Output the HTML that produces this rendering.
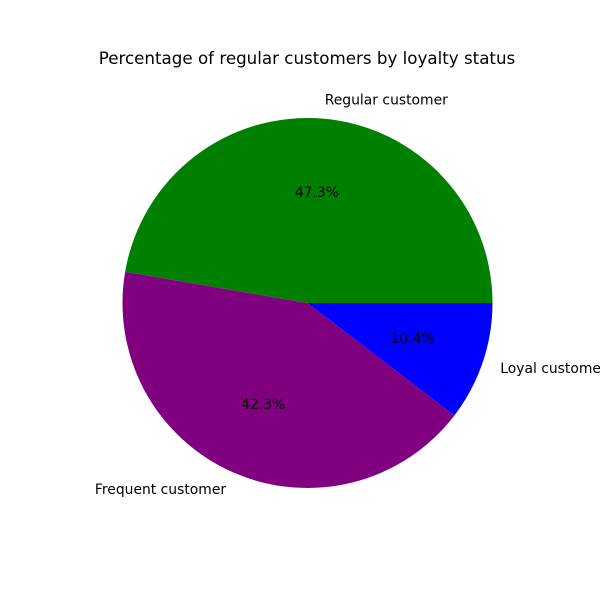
<!DOCTYPE html>
<html>
<head>
<meta charset="utf-8">
<style>
  html, body { margin: 0; padding: 0; background: #fff; }
  svg { display: block; font-family: "DejaVu Sans", "Liberation Sans", sans-serif; }
</style>
</head>
<body>
<svg id="chart" width="600" height="600" viewBox="0 0 600 600">
  <text x="307" y="64" font-size="16.7" text-anchor="middle" fill="#000">Percentage of regular customers by loyalty status</text>
  <g id="slices"></g>
  <g id="labels"></g>
</svg>
<script>
const categories = ["Regular customer", "Frequent customer", "Loyal customer"];
const values = [47.3, 42.3, 10.4];
const colors = ["#008000", "#800080", "#0000ff"];

const cx = 307.5, cy = 303, r = 185;
const ns = "http://www.w3.org/2000/svg";
const slicesG = document.getElementById("slices");
const labelsG = document.getElementById("labels");
const total = values.reduce((a, b) => a + b, 0);

function pt(angleDeg, rad) {
  const a = angleDeg * Math.PI / 180;
  return [cx + rad * Math.cos(a), cy - rad * Math.sin(a)];
}

let start = 0;
values.forEach((v, i) => {
  const sweep = v / total * 360;
  const end = start + sweep;
  const [x1, y1] = pt(start, r);
  const [x2, y2] = pt(end, r);
  const large = sweep > 180 ? 1 : 0;
  const path = document.createElementNS(ns, "path");
  path.setAttribute("d", `M${cx},${cy} L${x1},${y1} A${r},${r} 0 ${large} 0 ${x2},${y2} Z`);
  path.setAttribute("fill", colors[i]);
  
  
  slicesG.appendChild(path);

  const mid = start + sweep / 2;
  const [lx, ly] = pt(mid, r * 1.1);
  const lab = document.createElementNS(ns, "text");
  lab.setAttribute("x", lx);
  lab.setAttribute("y", ly + 4.5);
  lab.setAttribute("font-size", "13.9");
  lab.setAttribute("text-anchor", Math.cos(mid * Math.PI / 180) >= 0 ? "start" : "end");
  lab.textContent = categories[i];
  
  
  labelsG.appendChild(lab);

  const [px, py] = pt(mid, r * 0.6);
  const pct = document.createElementNS(ns, "text");
  pct.setAttribute("x", px);
  pct.setAttribute("y", py + 4.5);
  pct.setAttribute("font-size", "13.9");
  pct.setAttribute("text-anchor", "middle");
  pct.textContent = (v / total * 100).toFixed(1) + "%";
  
  
  labelsG.appendChild(pct);

  start = end;
});
</script>
</body>
</html>
